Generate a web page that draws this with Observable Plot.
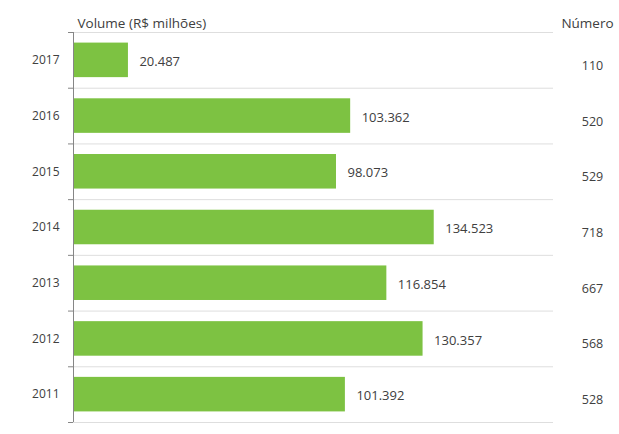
<!DOCTYPE html>
<html>
<head>
<meta charset="utf-8">
<script src="https://cdn.jsdelivr.net/npm/d3@7"></script>
<script src="https://cdn.jsdelivr.net/npm/@observablehq/plot@0.6"></script>
<style>
  html, body { margin: 0; padding: 0; background: #fff; }
</style>
</head>
<body>
<div id="chart"></div>
<script>
const years = [2017, 2016, 2015, 2014, 2013, 2012, 2011];
const volumes = [20487, 103362, 98073, 134523, 116854, 130357, 101392];
const counts = [110, 520, 529, 718, 667, 568, 528];
const headerVolume = "Volume (R$ milhões)";
const headerCount = "Número";

const data = years.map((y, i) => ({year: y, volume: volumes[i], count: counts[i]}));
const boundaries = d3.range(2010.5, 2018, 1);
const ptBR = d3.formatLocale({decimal: ",", thousands: ".", grouping: [3], currency: ["R$", ""]});
const fmt = ptBR.format(",d");
const textColor = "#404040";

const chart = Plot.plot({
  width: 619,
  height: 434,
  marginLeft: 73,
  marginRight: 66,
  marginTop: 32,
  marginBottom: 12,
  x: {domain: [0, 179000], axis: null},
  y: {domain: [2010.5, 2017.5], axis: null},
  style: {fontFamily: "'Open Sans', sans-serif", fontSize: "12px", color: textColor, background: "white"},
  marks: [
    Plot.ruleY(boundaries, {stroke: "#dedede", strokeWidth: 1}),
    Plot.rectX(data, {y1: d => d.year - 0.31, y2: d => d.year + 0.31, x1: 0, x2: "volume", fill: "#7dc242"}),
    Plot.text(data, {x: "volume", y: "year", text: d => fmt(d.volume), textAnchor: "start", dx: 11, dy: 1.5, fontSize: 13, fill: textColor}),
    Plot.text(data, {y: "year", frameAnchor: "right", dx: 39, dy: 5.5, text: d => String(d.count), textAnchor: "middle", fontSize: 12.5, fill: textColor}),
    Plot.ruleX([0], {y1: 2010.5, y2: 2017.5, stroke: "#868686"}),
    Plot.axisY(boundaries, {anchor: "left", tickSize: 5, tickFormat: () => "", stroke: "#868686", label: null}),
    Plot.axisY(years, {anchor: "left", tickSize: 0, tickPadding: 14, tickFormat: d => String(d), fill: textColor, label: null}),
    Plot.text([headerVolume], {frameAnchor: "top-left", dx: 4, dy: -14, textAnchor: "start", fontSize: 13.5, fill: textColor}),
    Plot.text([headerCount], {frameAnchor: "top-right", dx: 34, dy: -14, textAnchor: "middle", fontSize: 13.5, fill: textColor})
  ]
});
document.getElementById("chart").appendChild(chart);
</script>
</body>
</html>
